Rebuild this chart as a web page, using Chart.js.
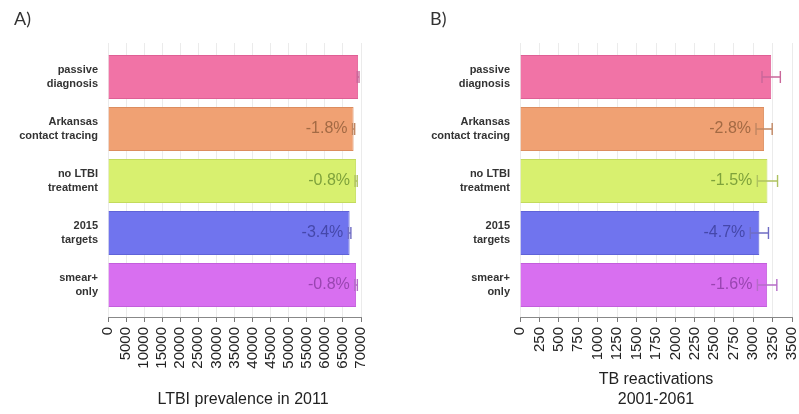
<!DOCTYPE html>
<html>
<head>
<meta charset="utf-8">
<script src="https://cdn.jsdelivr.net/npm/chart.js@4/dist/chart.umd.min.js"></script>
<style>
  html, body { margin: 0; padding: 0; background: #fff; overflow: hidden; width: 799px; height: 414px; }
  .panel { position: absolute; top: 0; height: 414px; }
  #wrapA { left: 0; width: 400px; }
  #wrapB { left: 400px; width: 415px; }
</style>
</head>
<body>
<div class="panel" id="wrapA"><canvas id="chartA"></canvas></div>
<div class="panel" id="wrapB"><canvas id="chartB"></canvas></div>
<script>
// Scenarios (two-line labels)
const categories = [
  ['passive', 'diagnosis'],
  ['Arkansas', 'contact tracing'],
  ['no LTBI', 'treatment'],
  ['2015', 'targets'],
  ['smear+', 'only']
];

// A) LTBI prevalence in 2011
const ltbiPrevalence = [69200, 67950, 68650, 66850, 68640];
const ltbiError = [250, 300, 300, 350, 350];
const ltbiTicks = [0, 5000, 10000, 15000, 20000, 25000, 30000, 35000, 40000, 45000, 50000, 55000, 60000, 65000, 70000];

// B) TB reactivations 2001-2061
const tbReactivations = [3232, 3141, 3184, 3080, 3180];
const tbError = [118, 104, 130, 117, 125];
const tbTicks = [0, 250, 500, 750, 1000, 1250, 1500, 1750, 2000, 2250, 2500, 2750, 3000, 3250, 3500];

// Scenario colours
const fillColors   = ['#f173a6', '#f0a173', '#d8f06f', '#7074ee', '#d86ff0'];
const borderColors = ['#df5f95', '#dc8d5f', '#c3db5c', '#5f63d8', '#c35edc'];
const errorColors  = ['#c9679a', '#c08662', '#aec260', '#6f6cc4', '#b56cc8'];
const labelColors  = ['#8a3a5e', '#95603c', '#6f9432', '#3d3f9e', '#8e3ea6'];

const FONT = '"Liberation Sans", Arial, Helvetica, sans-serif';

function pctLabel(values, i) {
  return ((values[i] / values[0] - 1) * 100).toFixed(1) + '%';
}

// Error bars, in-bar percentage labels, panel letter and axis title
function decorPlugin(cfg) {
  return {
    id: 'decor',
    afterDatasetsDraw(chart) {
      const ctx = chart.ctx;
      const xs = chart.scales.x;
      const meta = chart.getDatasetMeta(0);
      meta.data.forEach((bar, i) => {
        const v = cfg.values[i], e = cfg.errors[i];
        const lo = xs.getPixelForValue(v - e);
        const hi = xs.getPixelForValue(v + e);
        const y = bar.y;
        ctx.save();
        ctx.strokeStyle = errorColors[i];
        ctx.lineWidth = 1.4;
        ctx.beginPath();
        ctx.moveTo(lo, y); ctx.lineTo(hi, y);
        ctx.moveTo(lo, y - 6); ctx.lineTo(lo, y + 6);
        ctx.moveTo(hi, y - 6); ctx.lineTo(hi, y + 6);
        ctx.stroke();
        if (i > 0) {
          ctx.font = '16px ' + FONT;
          ctx.fillStyle = labelColors[i];
          ctx.globalAlpha = 0.85;
          ctx.textAlign = 'right';
          ctx.textBaseline = 'middle';
          ctx.fillText(pctLabel(cfg.values, i), lo - 5, y);
        }
        ctx.restore();
      });
    },
    afterDraw(chart) {
      const ctx = chart.ctx;
      ctx.save();
      ctx.fillStyle = '#333';
      ctx.font = '18px Lato, "Open Sans", sans-serif';
      ctx.textAlign = 'left';
      ctx.textBaseline = 'alphabetic';
      ctx.fillText(cfg.letter, cfg.letterX, 25);
      ctx.fillStyle = '#222';
      ctx.font = '16px ' + FONT;
      ctx.textAlign = 'center';
      ctx.textBaseline = 'middle';
      const n = cfg.title.length;
      cfg.title.forEach((line, k) => {
        ctx.fillText(line, cfg.titleX, 400 - (n - 1 - k) * 20);
      });
      ctx.restore();
    }
  };
}

function makeChart(id, cfg) {
  return new Chart(document.getElementById(id), {
    type: 'bar',
    data: {
      datasets: [{
        data: cfg.values.map((v, i) => ({ x: v, y: i })),
        backgroundColor: fillColors,
        borderColor: borderColors,
        borderWidth: 1,
        barPercentage: 0.85,
        categoryPercentage: 1
      }]
    },
    options: {
      indexAxis: 'y',
      responsive: true,
      maintainAspectRatio: false,
      animation: false,
      layout: { padding: { left: 0, top: 43, right: cfg.padRight, bottom: 0 } },
      plugins: { legend: { display: false }, tooltip: { enabled: false } },
      scales: {
        y: {
          type: 'linear',
          reverse: true,
          offset: false,
          min: -0.654,
          max: 4.615,
          afterBuildTicks: s => { s.ticks = categories.map((_, i) => ({ value: i })); },
          afterFit: s => { s.width = cfg.yWidth; },
          grid: { display: false, drawTicks: false, offset: false },
          border: { display: false },
          ticks: {
            autoSkip: false,
            padding: 10,
            color: '#333',
            font: { family: FONT, size: 11, weight: 'bold', lineHeight: 1.2 },
            callback: v => categories[v]
          }
        },
        x: {
          type: 'linear',
          min: 0,
          max: cfg.ticks[cfg.ticks.length - 1],
          afterBuildTicks: s => { s.ticks = cfg.ticks.map(v => ({ value: v })); },
          afterFit: s => { s.height = 97; },
          grid: { color: '#ebebeb', tickColor: '#777', tickLength: 5 },
          border: { display: true, color: '#888', width: 1 },
          ticks: {
            autoSkip: false,
            minRotation: 90,
            maxRotation: 90,
            padding: 5,
            color: '#222',
            font: { family: FONT, size: 15 },
            callback: v => String(v)
          }
        }
      }
    },
    plugins: [decorPlugin(cfg)]
  });
}

makeChart('chartA', {
  values: ltbiPrevalence, errors: ltbiError, ticks: ltbiTicks,
  yWidth: 108, padRight: 39, letter: 'A)', letterX: 14,
  title: ['LTBI prevalence in 2011'], titleX: 243
});

makeChart('chartB', {
  values: tbReactivations, errors: tbError, ticks: tbTicks,
  yWidth: 120, padRight: 18, letter: 'B)', letterX: 30,
  title: ['TB reactivations', '2001-2061'], titleX: 256
});
</script>
</body>
</html>
